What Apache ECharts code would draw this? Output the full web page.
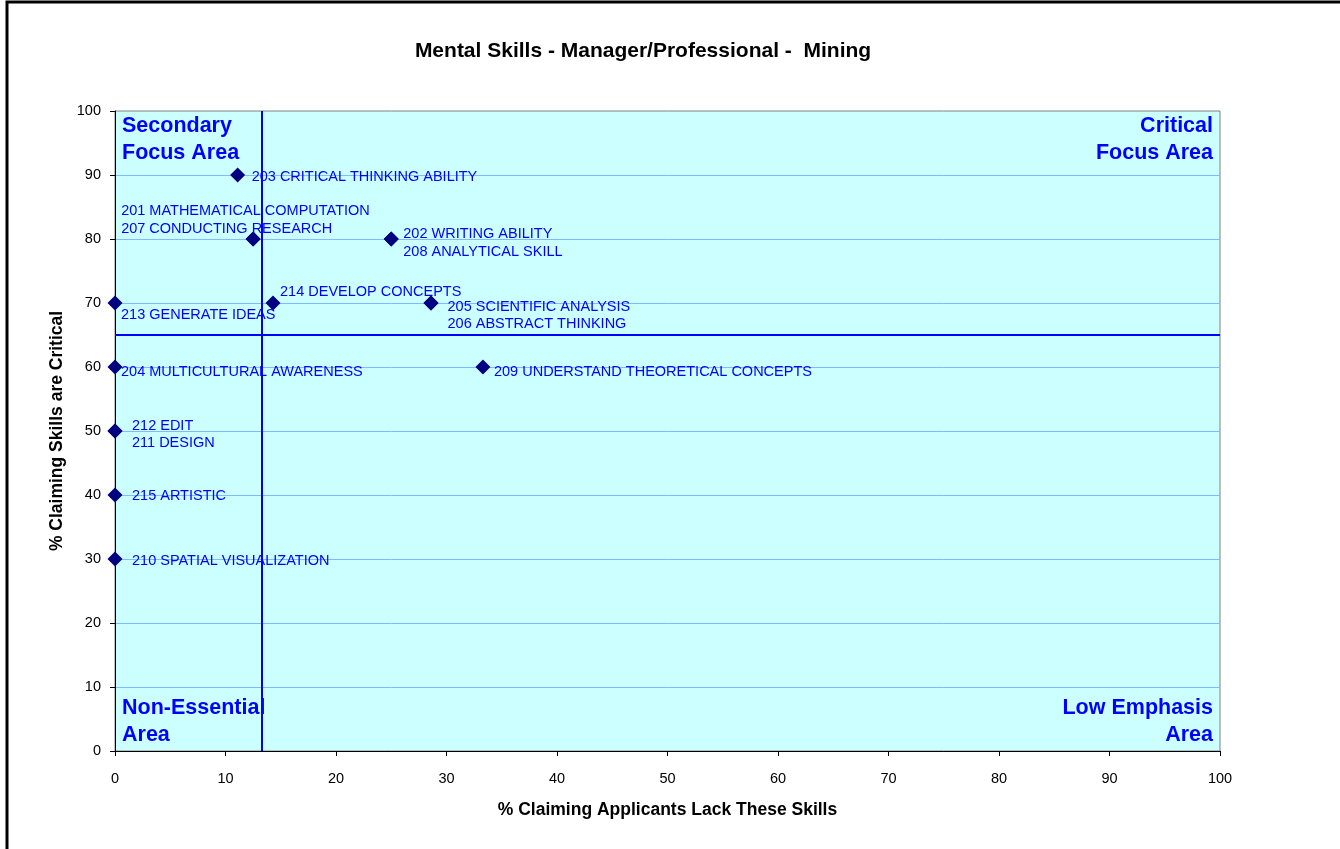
<!DOCTYPE html>
<html>
<head>
<meta charset="utf-8">
<script src="https://cdn.jsdelivr.net/npm/echarts@6/dist/echarts.min.js"></script>
<style>
html,body{margin:0;padding:0;background:#fff;}
#chart{width:1340px;height:849px;}
</style>
</head>
<body>
<div id="chart"></div>
<script>
// ---- data ----
const skillNames = [
  '203 CRITICAL THINKING ABILITY',
  '201 MATHEMATICAL COMPUTATION',
  '207 CONDUCTING RESEARCH',
  '202 WRITING ABILITY',
  '208 ANALYTICAL SKILL',
  '213 GENERATE IDEAS',
  '214 DEVELOP CONCEPTS',
  '205 SCIENTIFIC ANALYSIS',
  '206 ABSTRACT THINKING',
  '204 MULTICULTURAL AWARENESS',
  '209 UNDERSTAND THEORETICAL CONCEPTS',
  '212 EDIT',
  '211 DESIGN',
  '215 ARTISTIC',
  '210 SPATIAL VISUALIZATION'
];
const lackPct     = [11.1, 12.5, 12.5, 25, 25, 0, 14.3, 28.6, 28.6, 0, 33.3, 0, 0, 0, 0];
const criticalPct = [90, 80, 80, 80, 80, 70, 70, 70, 70, 60, 60, 50, 50, 40, 30];
const xTicks = [0,10,20,30,40,50,60,70,80,90,100];
const yTicks = [0,10,20,30,40,50,60,70,80,90,100];
const refLineX = 13.3;
const refLineY = 65;
const quadrantLabels = ['Secondary\nFocus Area', 'Critical\nFocus Area', 'Non-Essential\nArea', 'Low Emphasis\nArea'];

// ---- label styling (pixel positions relative to the marker box, not data) ----
const labelPos = [
  [21.5, 9.5], [-124.5, -20.5], [-124.5, -2.5], [19.5, 2.5], [19.5, 20.5],
  [13.5, 19.5], [14.5, -3.5], [24, 11], [24, 28.5], [13.5, 12.5],
  [18.5, 12.5], [24.5, 2.5], [24.5, 19.5], [24.5, 8], [24.5, 9]
];

const chart = echarts.init(document.getElementById('chart'), null, {renderer: 'canvas'});
const FONT = 'Arial, "Liberation Sans", sans-serif';

const pts = skillNames.map((n, i) => ({
  value: [lackPct[i], criticalPct[i]],
  name: n,
  label: {
    show: true,
    formatter: n,
    position: labelPos[i],
    align: 'left',
    verticalAlign: 'middle'
  }
}));

const qa = {color: '#0000FF', fontSize: 21.5, fontWeight: 'bold', fontFamily: FONT, lineHeight: 27, distance: 2, padding: [0, 5, 0, 5]};

chart.setOption({
  animation: false,
  title: {
    text: 'Mental Skills - Manager/Professional -  Mining',
    left: 638, top: 36, textAlign: 'center',
    textStyle: {fontSize: 21, fontWeight: 'bold', color: '#000', fontFamily: FONT}
  },
  grid: {
    left: 115, right: 120, top: 111, bottom: 98,
    show: true, backgroundColor: '#CCFFFF', borderColor: '#808080', borderWidth: 1
  },
  xAxis: {
    type: 'value', min: 0, max: 100, interval: 10,
    name: '% Claiming Applicants Lack These Skills',
    nameLocation: 'middle', nameGap: 50,
    nameTextStyle: {fontSize: 17.5, fontWeight: 'bold', color: '#000', fontFamily: FONT},
    axisLine: {show: true, lineStyle: {color: '#000', width: 1}},
    axisTick: {show: true, length: 5, lineStyle: {color: '#000'}},
    axisLabel: {fontSize: 14.5, color: '#000', fontFamily: FONT, margin: 20,
      formatter: v => xTicks.includes(v) ? String(v) : ''},
    splitLine: {show: false}
  },
  yAxis: {
    type: 'value', min: 0, max: 100, interval: 10,
    name: '% Claiming Skills are Critical',
    nameLocation: 'middle', nameGap: 46,
    nameTextStyle: {fontSize: 17.5, fontWeight: 'bold', color: '#000', fontFamily: FONT},
    axisLine: {show: true, lineStyle: {color: '#000', width: 1}},
    axisTick: {show: true, length: 5, lineStyle: {color: '#000'}},
    axisLabel: {fontSize: 14.5, color: '#000', fontFamily: FONT, margin: 14,
      formatter: v => yTicks.includes(v) ? String(v) : ''},
    splitLine: {show: true, showMinLine: false, showMaxLine: false, lineStyle: {color: '#80BBFF', width: 1}}
  },
  graphic: [{
    type: 'rect', silent: true,
    shape: {x: 7, y: 2, width: 1345, height: 860},
    style: {fill: 'none', stroke: '#000', lineWidth: 3}
  }],
  series: [{
    type: 'scatter',
    symbol: 'diamond',
    symbolSize: 15,
    itemStyle: {color: '#000080', opacity: 1},
    label: {color: '#0000FF', fontSize: 14.5, fontFamily: FONT, opacity: 1},
    labelLayout: {hideOverlap: false},
    data: pts,
    z: 5,
    markLine: {
      silent: true, symbol: 'none',
      lineStyle: {color: '#0000FF', width: 2, type: 'solid', opacity: 1},
      label: {show: false},
      data: [{xAxis: refLineX}, {yAxis: refLineY}],
      z: 3
    },
    markArea: {
      silent: true,
      itemStyle: {color: 'rgba(0,0,0,0)'},
      data: [
        [{coord: [0, 0], label: Object.assign({show: true, position: 'insideTopLeft', formatter: quadrantLabels[0]}, qa)}, {coord: [100, 100]}],
        [{coord: [0, 0], label: Object.assign({show: true, position: 'insideTopRight', formatter: quadrantLabels[1], align: 'right'}, qa)}, {coord: [100, 100]}],
        [{coord: [0, 0], label: Object.assign({show: true, position: 'insideBottomLeft', formatter: quadrantLabels[2]}, qa)}, {coord: [100, 100]}],
        [{coord: [0, 0], label: Object.assign({show: true, position: 'insideBottomRight', formatter: quadrantLabels[3], align: 'right'}, qa)}, {coord: [100, 100]}]
      ]
    }
  }]
});
</script>
</body>
</html>
